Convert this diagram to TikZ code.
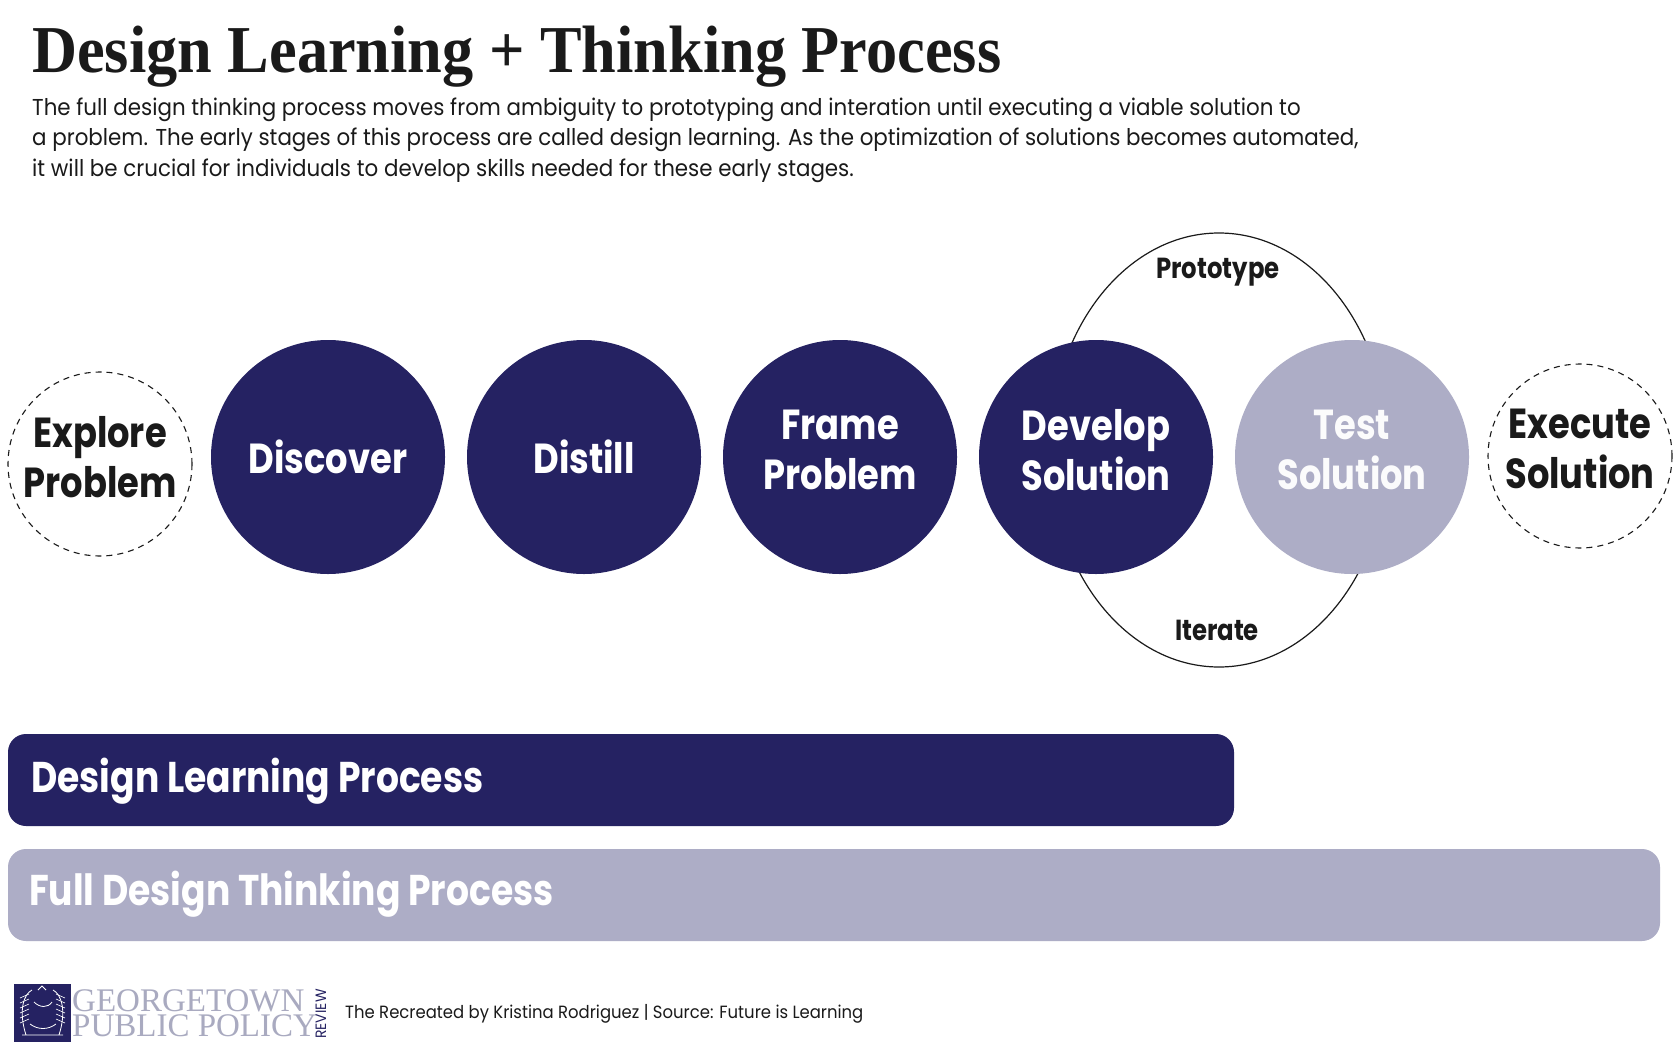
\documentclass[tikz,border=0pt]{standalone}
\usepackage{fontspec}
\usetikzlibrary{shapes.geometric,positioning}
\newfontfamily\gothic[FakeStretch=0.93]{Poppins}
\newfontfamily\heavy[FakeStretch=0.84]{Poppins}
\newfontfamily\headline[FakeStretch=0.93]{Liberation Serif}
\newfontfamily\crestfont{Liberation Serif}
\definecolor{navy}{HTML}{252262}
\definecolor{lilac}{HTML}{ADADC6}
\definecolor{ink}{HTML}{1A1A1A}
\definecolor{crestgray}{HTML}{A9AAC0}

\begin{document}
\begin{tikzpicture}[x=1pt,y=-1pt,
    stage/.style={circle,minimum size=234pt,inner sep=0pt,align=center,text=white,
      font=\heavy\bfseries\fontsize{42}{50}\selectfont},
    openstage/.style={circle,draw=ink,line width=1.1pt,dash pattern=on 6pt off 5pt,
      minimum size=184pt,inner sep=0pt,align=center,text=ink,
      font=\heavy\bfseries\fontsize{42}{50}\selectfont},
    twoline/.style={text depth=15pt},
    steplabel/.style={text=ink,font=\heavy\bfseries\fontsize{29}{32}\selectfont},
    barlabel/.style={anchor=base west,inner sep=0pt,text=white,font=\heavy\bfseries\fontsize{43}{48}\selectfont}]
        \useasboundingbox (0,0) rectangle (1680,1057);
        \fill[white] (0,0) rectangle (1680,1057);
        % heading
        \node[anchor=base west,inner sep=0pt,text=ink,font=\headline\bfseries\fontsize{67}{70}\selectfont] (title) at (32,72) {Design Learning + Thinking Process};
        \node[anchor=base west,inner sep=0pt,align=left,text=ink,font=\gothic\fontsize{23}{30.5}\selectfont] (intro) at (32,176) {The full design thinking process moves from ambiguity to prototyping and interation until executing a viable solution to\\a problem. The early stages of this process are called design learning. As the optimization of solutions becomes automated,\\it will be crucial for individuals to develop skills needed for these early stages.};
        % loop behind the last two stages
        \node[draw=ink,line width=1.2pt,ellipse,minimum width=338pt,minimum height=434pt] (loop) at (1219,450) {};
        \node[steplabel] (proto) at (1218,272) {Prototype};
        \node[steplabel] (iter) at (1217,630) {Iterate};
        % stages
        \node[openstage,twoline] (explore) at (100,464) {Explore\\Problem};
        \node[stage,fill=navy] (discover) at (328,457) {Discover};
        \node[stage,fill=navy] (distill) at (584,457) {Distill};
        \node[stage,fill=navy,twoline] (frame) at (840,457) {Frame\\Problem};
        \node[stage,fill=navy,twoline] (develop) at (1096,457) {Develop\\Solution};
        \node[stage,fill=lilac,twoline,text=white!95!lilac] (test) at (1352,457) {Test\\Solution};
        \node[openstage,twoline] (execute) at (1580,456) {Execute\\Solution};
        % process bars
        \fill[navy,rounded corners=18pt] (8,734) rectangle (1234,826);
        \node[barlabel] (learnbar) at (31,792) {Design Learning Process};
        \fill[lilac,rounded corners=18pt] (8,849) rectangle (1660,941);
        \node[barlabel] (fullbar) at (29,905) {Full Design Thinking Process};
        % footer
        \fill[navy] (14,984) rectangle (71,1042);
        \draw[white,line width=0.8pt] (22,1035) -- (63,1035) (26,1035) .. controls (18,1010) and (24,994) .. (32,990)
          (59,1035) .. controls (67,1010) and (61,994) .. (53,990)
          (30,1024) .. controls (38,1030) and (48,1030) .. (56,1024)
          (34,1002) .. controls (40,1008) and (48,1008) .. (52,1002)
          (38,990) -- (42,986) -- (46,990);
        \foreach \k in {0,...,5}
          \draw[white,line width=0.6pt] (20,{998+\k*5}) -- (29,{994+\k*5}) (65,{998+\k*5}) -- (56,{994+\k*5});
        \node[anchor=base west,inner sep=0pt,align=left,text=crestgray,font=\crestfont\fontsize{33}{25}\selectfont] (crestname) at (72,1036) {GEORGETOWN\\PUBLIC POLICY};
        \node[rotate=90,inner sep=0pt,text=navy,font=\gothic\fontsize{15}{15}\selectfont] (review) at (321,1014) {REVIEW};
        \node[anchor=base west,inner sep=0pt,text=ink,font=\gothic\fontsize{17.7}{20}\selectfont] (credit) at (345,1018) {The Recreated by Kristina Rodriguez | Source: Future is Learning};
\end{tikzpicture}
\end{document}
